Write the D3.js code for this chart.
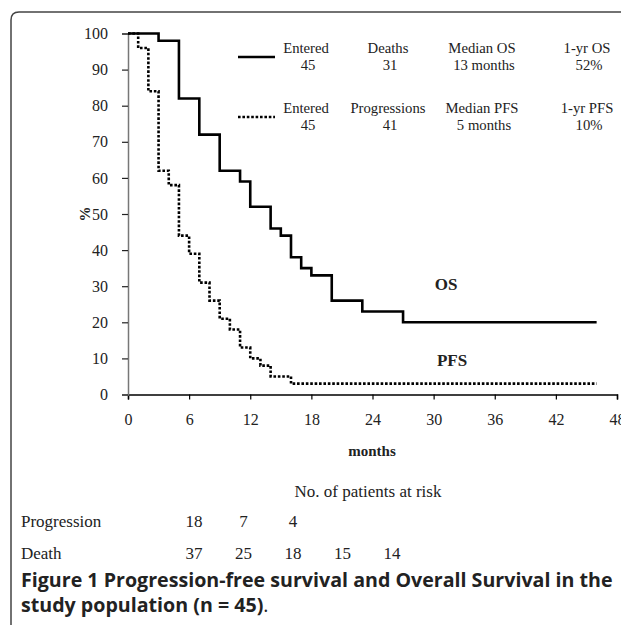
<!DOCTYPE html>
<html><head><meta charset="utf-8">
<script src="https://cdn.jsdelivr.net/npm/d3@7"></script>
<style>body{margin:0;background:#fff}svg{display:block}</style>
</head><body><svg id="c" width="621" height="625"></svg>
<script>
const osTimes  = [0, 3, 5, 7, 9, 11, 12, 14, 15, 16, 17, 18, 20, 23, 27, 46];
const osSurv   = [100, 98, 82, 72, 62, 59, 52, 46, 44, 38, 35, 33, 26, 23, 20, 20];
const pfsTimes = [0, 1, 2, 3, 4, 5, 6, 7, 8, 9, 10, 11, 12, 13, 14, 16, 46];
const pfsSurv  = [100, 96, 84, 62, 58, 44, 39, 31, 26, 21, 18, 13, 10, 8, 5, 3, 3];
const xTicks = [0, 6, 12, 18, 24, 30, 36, 42, 48];
const yTicks = [0, 10, 20, 30, 40, 50, 60, 70, 80, 90, 100];
const riskTimes = [6, 12, 18, 24, 30];
const riskProgression = [18, 7, 4];
const riskDeath = [37, 25, 18, 15, 14];
const legendOS  = [["Entered","45"],["Deaths","31"],["Median OS","13 months"],["1-yr OS","52%"]];
const legendPFS = [["Entered","45"],["Progressions","41"],["Median PFS","5 months"],["1-yr PFS","10%"]];

const svg = d3.select("#c");
const serif = "'Liberation Serif','Times New Roman',serif";
const ink = "#222";
const x = d3.scaleLinear().domain([0,48]).range([128,617]);
const y = d3.scaleLinear().domain([0,100]).range([394.5,33.5]);

// frame
svg.append("path").attr("d","M11,625 L11,20 Q11,12 19,12 L621,12")
  .attr("fill","none").attr("stroke","#444").attr("stroke-width",1.5);

// axes
const xa = svg.append("g").attr("transform","translate(0,394.5)")
  .call(d3.axisBottom(x).tickValues(xTicks).tickSize(5).tickPadding(14).tickFormat(d3.format("d")));
xa.select(".domain").attr("stroke","#000").attr("stroke-width",1.5);
xa.selectAll(".tick line").attr("stroke","#000").attr("stroke-width",1.2);
xa.selectAll("text").attr("font-family",serif).attr("font-size",16).attr("fill",ink);

const ya = svg.append("g").attr("transform","translate(128,0)")
  .call(d3.axisLeft(y).tickValues(yTicks).tickSize(6).tickPadding(14).tickFormat(d3.format("d")));
ya.select(".domain").attr("stroke","#777").attr("stroke-width",1.5);
ya.selectAll(".tick line").attr("stroke",ink).attr("stroke-width",1.2);
ya.selectAll("text").attr("font-family",serif).attr("font-size",16).attr("fill",ink);

// curves
const line = d3.line().x(d=>x(d[0])).y(d=>y(d[1])).curve(d3.curveStepAfter);
svg.append("path").datum(osTimes.map((t,i)=>[t,osSurv[i]]))
  .attr("d",line).attr("fill","none").attr("stroke","#000").attr("stroke-width",2.6);
svg.append("path").datum(pfsTimes.map((t,i)=>[t,pfsSurv[i]]))
  .attr("d",line).attr("fill","none").attr("stroke","#000").attr("stroke-width",2.6)
  .attr("stroke-dasharray","2.6,1.8");

// legend
const colX = [306, 388, 482, 587];
function legendRow(items, yBase, dashed){
  svg.append("line").attr("x1",238).attr("x2",275).attr("y1",yBase+4).attr("y2",yBase+4)
    .attr("stroke","#000").attr("stroke-width",2.6).attr("stroke-dasharray",dashed?"2.6,1.8":null);
  items.forEach((it,i)=>{
    const t = svg.append("text").attr("font-family",serif).attr("font-size",14.7).attr("fill",ink)
      .attr("text-anchor","middle");
    t.append("tspan").attr("x",colX[i]).attr("y",yBase).text(it[0]);
    t.append("tspan").attr("x",colX[i]+2).attr("y",yBase+17).text(it[1]);
  });
}
legendRow(legendOS, 53, false);
legendRow(legendPFS, 113, true);

// curve labels
svg.append("text").attr("x",446).attr("y",290).attr("text-anchor","middle")
  .attr("font-family",serif).attr("font-weight","bold").attr("font-size",17).attr("fill",ink).text("OS");
svg.append("text").attr("x",452).attr("y",366).attr("text-anchor","middle")
  .attr("font-family",serif).attr("font-weight","bold").attr("font-size",17).attr("fill",ink).text("PFS");

// axis titles
svg.append("text").attr("transform","translate(90,214) rotate(-90)").attr("text-anchor","middle")
  .attr("font-family",serif).attr("font-weight","bold").attr("font-size",15).attr("fill",ink).text("%");
svg.append("text").attr("x",372).attr("y",456).attr("text-anchor","middle")
  .attr("font-family",serif).attr("font-weight","bold").attr("font-size",15).attr("fill",ink).text("months");

// risk table
const riskX = d3.scalePoint().domain(riskTimes).range([194, 392]);
svg.append("text").attr("x",368).attr("y",497).attr("text-anchor","middle")
  .attr("font-family",serif).attr("font-size",17).attr("fill",ink).text("No. of patients at risk");
function riskRow(label, vals, yBase){
  svg.append("text").attr("x",21).attr("y",yBase).attr("font-family",serif).attr("font-size",17)
    .attr("fill",ink).text(label);
  svg.selectAll(null).data(vals).enter().append("text")
    .attr("x",(d,i)=>riskX(riskTimes[i])).attr("y",yBase).attr("text-anchor","middle")
    .attr("font-family",serif).attr("font-size",17).attr("fill",ink).text(d=>d);
}
riskRow("Progression", riskProgression, 527);
riskRow("Death", riskDeath, 559);

// caption
const sans = "'Open Sans','Noto Sans',sans-serif";
const c1 = svg.append("text").attr("x",21).attr("y",587).attr("font-family",sans)
  .attr("font-weight","bold").attr("font-size",16).attr("fill",ink)
  .text("Figure 1 Progression-free survival and Overall Survival in the");
const w = c1.node().getComputedTextLength();
const fs = 16*592/w;
c1.attr("font-size",fs);
const c2 = svg.append("text").attr("x",21).attr("y",612).attr("font-family",sans)
  .attr("font-size",fs).attr("fill",ink);
c2.append("tspan").attr("font-weight","bold").text("study population (n = 45)");
c2.append("tspan").text(".");
</script></body></html>
